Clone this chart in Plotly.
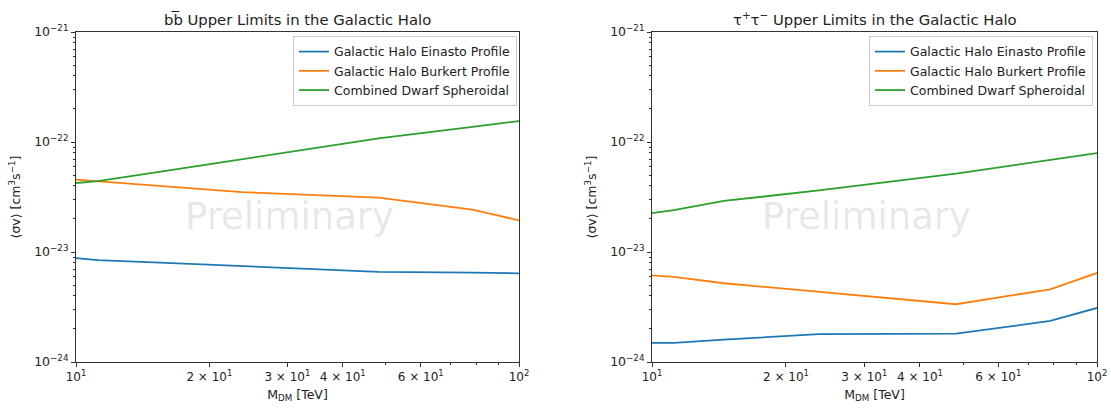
import plotly.graph_objects as go

masses = [10, 11.2, 14.5, 23.7, 48.2, 78.5, 100]

bb_einasto = [8.8e-24, 8.45e-24, 8.1e-24, 7.45e-24, 6.6e-24, 6.5e-24, 6.4e-24]
bb_burkert = [4.55e-23, 4.4e-23, 4.06e-23, 3.5e-23, 3.12e-23, 2.43e-23, 1.94e-23]
bb_dwarf = [4.24e-23, 4.4e-23, 5.15e-23, 6.97e-23, 1.08e-22, 1.37e-22, 1.55e-22]

tau_einasto = [1.49e-24, 1.49e-24, 1.6e-24, 1.79e-24, 1.81e-24, 2.36e-24, 3.1e-24]
tau_burkert = [6.14e-24, 5.93e-24, 5.2e-24, 4.33e-24, 3.35e-24, 4.58e-24, 6.45e-24]
tau_dwarf = [2.26e-23, 2.4e-23, 2.91e-23, 3.63e-23, 5.16e-23, 6.82e-23, 7.94e-23]

series_names = ["Galactic Halo Einasto Profile", "Galactic Halo Burkert Profile", "Combined Dwarf Spheroidal"]
colors = ["#1f77b4", "#ff7f0e", "#2ca02c"]

titles = ["bb\u0305 Upper Limits in the Galactic Halo",
          "τ<sup>+</sup>τ<sup>−</sup> Upper Limits in the Galactic Halo"]

x_tickvals = [10, 20, 30, 40, 60, 100]
x_ticktext = ["10<sup>1</sup>", "2 × 10<sup>1</sup>", "3 × 10<sup>1</sup>",
              "4 × 10<sup>1</sup>", "6 × 10<sup>1</sup>", "10<sup>2</sup>"]
x_minor = [50, 70, 80, 90]
y_tickvals = [1e-24, 1e-23, 1e-22, 1e-21]
y_ticktext = ["10<sup>−24</sup>", "10<sup>−23</sup>", "10<sup>−22</sup>", "10<sup>−21</sup>"]
y_minor = [m * 10.0 ** e for e in (-24, -23, -22) for m in range(2, 10)]

FONT = "DejaVu Sans"
TXT = "#222222"

fig = go.Figure()

panels = [(bb_einasto, bb_burkert, bb_dwarf), (tau_einasto, tau_burkert, tau_dwarf)]
for p, data in enumerate(panels):
    xa = "x" if p == 0 else "x2"
    ya = "y" if p == 0 else "y2"
    lg = "legend" if p == 0 else "legend2"
    for i, vals in enumerate(data):
        fig.add_trace(go.Scatter(x=masses, y=vals, mode="lines", name=series_names[i],
                                 line=dict(color=colors[i], width=1.8),
                                 xaxis=xa, yaxis=ya, legend=lg))

L, R, T, B = 76, 14, 32, 48
W, H = 1111, 410
pw = W - L - R
d1 = [0, (519 - L) / pw]
d2 = [(652 - L) / pw, 1.0]

def xaxis(dom, anchor):
    return dict(type="log", domain=dom, anchor=anchor, range=[1, 2], automargin=False,
                tickvals=x_tickvals, ticktext=x_ticktext, ticks="outside", ticklen=4,
                tickcolor="#333", showline=True, linecolor="#333", linewidth=1, mirror=True,
                showgrid=False, zeroline=False,
                tickfont=dict(family=FONT, size=12, color=TXT),
                minor=dict(tickvals=x_minor, ticks="outside", ticklen=2, tickcolor="#333", showgrid=False),
                title=dict(text="M<sub>DM</sub> [TeV]", font=dict(family=FONT, size=12.5, color=TXT), standoff=6))

def yaxis(anchor):
    return dict(type="log", domain=[0, 1], anchor=anchor, range=[-24, -21], automargin=False,
                tickvals=y_tickvals, ticktext=y_ticktext, ticks="outside", ticklen=4,
                tickcolor="#333", showline=True, linecolor="#333", linewidth=1, mirror=True,
                showgrid=False, zeroline=False,
                tickfont=dict(family=FONT, size=12.5, color=TXT),
                minor=dict(tickvals=y_minor, ticks="outside", ticklen=2, tickcolor="#333", showgrid=False),
                title=dict(text="⟨σv⟩ [cm<sup>3</sup>s<sup>−1</sup>]", font=dict(family=FONT, size=12.5, color=TXT), standoff=10))

legend_common = dict(bgcolor="rgba(255,255,255,0.85)", bordercolor="#cccccc", borderwidth=1,
                     font=dict(family=FONT, size=12.5, color=TXT), xanchor="right", yanchor="top",
                     tracegroupgap=0, itemwidth=30)

fig.update_layout(
    width=W, height=H,
    margin=dict(l=L, r=R, t=T, b=B, autoexpand=False),
    paper_bgcolor="white", plot_bgcolor="white",
    xaxis=xaxis(d1, "y"), yaxis=yaxis("x"),
    xaxis2=xaxis(d2, "y2"), yaxis2=yaxis("x2"),
    legend=dict(x=(517 - L) / pw, y=0.988, **legend_common),
    legend2=dict(x=(1093 - L) / pw, y=0.988, **legend_common),
    showlegend=True,
)

for p, dom in enumerate([d1, d2]):
    cx = (dom[0] + dom[1]) / 2
    fig.add_annotation(text=titles[p], x=cx, y=1.0, xref="paper", yref="paper",
                       xanchor="center", yanchor="bottom", yshift=2, showarrow=False,
                       font=dict(family=FONT, size=14.8, color=TXT))
    fig.add_annotation(text="Preliminary", x=cx, y=0.44, xref="paper", yref="paper",
                       xanchor="center", yanchor="middle", xshift=-8, showarrow=False,
                       font=dict(family=FONT, size=37, color="rgba(0,0,0,0.1)"))

fig.write_html("out.html")
